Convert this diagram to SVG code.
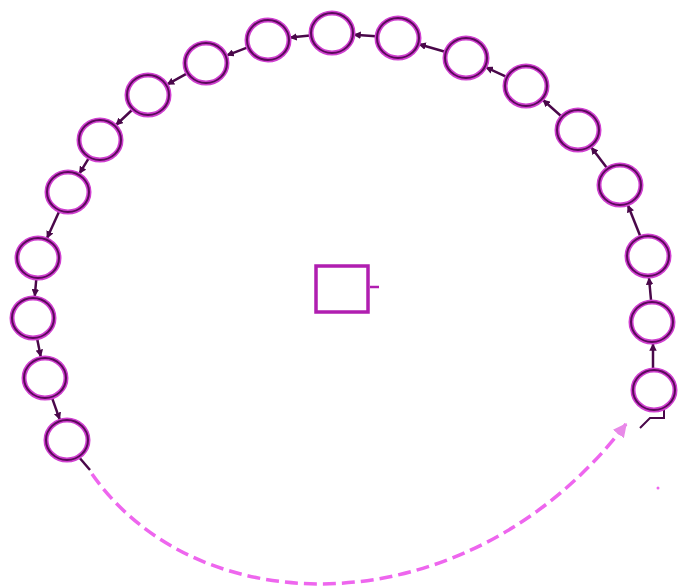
<svg xmlns="http://www.w3.org/2000/svg" width="682" height="588" viewBox="0 0 682 588">
<style>
.n ellipse{fill:#fff;stroke:#d040d0;stroke-width:5}
.n ellipse.i{fill:none;stroke:#5a0a5a;stroke-width:2}
.c line{stroke:#4a084a;stroke-width:2.5;marker-end:url(#ah)}
.sq rect{fill:#fff;stroke:#b01eb0;stroke-width:3.5}
</style>
<defs>
<marker id="ah" viewBox="0 0 10 10" refX="9" refY="5" markerWidth="3" markerHeight="3" orient="auto"><path d="M0,0 L10,5 L0,10 z" fill="#4a084a"/></marker>
<marker id="ah2" viewBox="0 0 10 10" refX="9" refY="5" markerWidth="4" markerHeight="4" orient="auto"><path d="M0,0 L10,5 L0,10 z" fill="#e88ae8"/></marker>
</defs>
<g id="connectors" class="c">
<line x1="653" y1="368" x2="653" y2="344"/>
<line x1="651" y1="300" x2="649" y2="278"/>
<line x1="640" y1="235.5" x2="628" y2="205.5"/>
<line x1="606.6" y1="167.5" x2="591.4" y2="147.5"/>
<line x1="561" y1="116" x2="543" y2="100"/>
<line x1="506" y1="76.7" x2="486" y2="67.3"/>
<line x1="445" y1="51.8" x2="419" y2="44.2"/>
<line x1="376" y1="36.3" x2="354" y2="34.7"/>
<line x1="310" y1="35.4" x2="290" y2="37.6"/>
<line x1="247" y1="47.7" x2="227" y2="55.3"/>
<line x1="186.7" y1="73.6" x2="167.3" y2="84.4"/>
<line x1="132" y1="110" x2="116" y2="125"/>
<line x1="88.5" y1="158.7" x2="79.5" y2="173.3"/>
<line x1="58.9" y1="212" x2="47.1" y2="238"/>
<line x1="36.2" y1="280" x2="34.8" y2="296"/>
<line x1="37.3" y1="339.6" x2="40.7" y2="356.4"/>
<line x1="52.3" y1="398.7" x2="59.7" y2="419.3"/>
<path d="M78 456 L90 470" stroke="#4a084a" stroke-width="2.5" fill="none"/>
<path d="M92 474 C 200 628, 470 628, 626 424" fill="none" stroke="#ee66ee" stroke-width="3.5" stroke-dasharray="13 6" marker-end="url(#ah2)"/>
<path d="M640 428 L650 418 L664 418 L664 408" fill="none" stroke="#4a084a" stroke-width="2"/>
<line x1="370" y1="287" x2="379" y2="287" style="marker-end:none;stroke:#b01eb0"/>
</g>
<g id="n0" class="n"><ellipse cx="654" cy="390" rx="21" ry="20"/><ellipse class="i" cx="654" cy="390" rx="21" ry="20"/></g>
<g id="n1" class="n"><ellipse cx="652" cy="322" rx="21" ry="20"/><ellipse class="i" cx="652" cy="322" rx="21" ry="20"/></g>
<g id="n2" class="n"><ellipse cx="648" cy="256" rx="21" ry="20"/><ellipse class="i" cx="648" cy="256" rx="21" ry="20"/></g>
<g id="n3" class="n"><ellipse cx="620" cy="185" rx="21" ry="20"/><ellipse class="i" cx="620" cy="185" rx="21" ry="20"/></g>
<g id="n4" class="n"><ellipse cx="578" cy="130" rx="21" ry="20"/><ellipse class="i" cx="578" cy="130" rx="21" ry="20"/></g>
<g id="n5" class="n"><ellipse cx="526" cy="86" rx="21" ry="20"/><ellipse class="i" cx="526" cy="86" rx="21" ry="20"/></g>
<g id="n6" class="n"><ellipse cx="466" cy="58" rx="21" ry="20"/><ellipse class="i" cx="466" cy="58" rx="21" ry="20"/></g>
<g id="n7" class="n"><ellipse cx="398" cy="38" rx="21" ry="20"/><ellipse class="i" cx="398" cy="38" rx="21" ry="20"/></g>
<g id="n8" class="n"><ellipse cx="332" cy="33" rx="21" ry="20"/><ellipse class="i" cx="332" cy="33" rx="21" ry="20"/></g>
<g id="n9" class="n"><ellipse cx="268" cy="40" rx="21" ry="20"/><ellipse class="i" cx="268" cy="40" rx="21" ry="20"/></g>
<g id="n10" class="n"><ellipse cx="206" cy="63" rx="21" ry="20"/><ellipse class="i" cx="206" cy="63" rx="21" ry="20"/></g>
<g id="n11" class="n"><ellipse cx="148" cy="95" rx="21" ry="20"/><ellipse class="i" cx="148" cy="95" rx="21" ry="20"/></g>
<g id="n12" class="n"><ellipse cx="100" cy="140" rx="21" ry="20"/><ellipse class="i" cx="100" cy="140" rx="21" ry="20"/></g>
<g id="n13" class="n"><ellipse cx="68" cy="192" rx="21" ry="20"/><ellipse class="i" cx="68" cy="192" rx="21" ry="20"/></g>
<g id="n14" class="n"><ellipse cx="38" cy="258" rx="21" ry="20"/><ellipse class="i" cx="38" cy="258" rx="21" ry="20"/></g>
<g id="n15" class="n"><ellipse cx="33" cy="318" rx="21" ry="20"/><ellipse class="i" cx="33" cy="318" rx="21" ry="20"/></g>
<g id="n16" class="n"><ellipse cx="45" cy="378" rx="21" ry="20"/><ellipse class="i" cx="45" cy="378" rx="21" ry="20"/></g>
<g id="n17" class="n"><ellipse cx="67" cy="440" rx="21" ry="20"/><ellipse class="i" cx="67" cy="440" rx="21" ry="20"/></g>
<g id="center" class="sq"><rect x="316" y="266" width="52" height="46"/></g>
<circle cx="658" cy="488" r="1.5" fill="#ee66ee"/>
</svg>
